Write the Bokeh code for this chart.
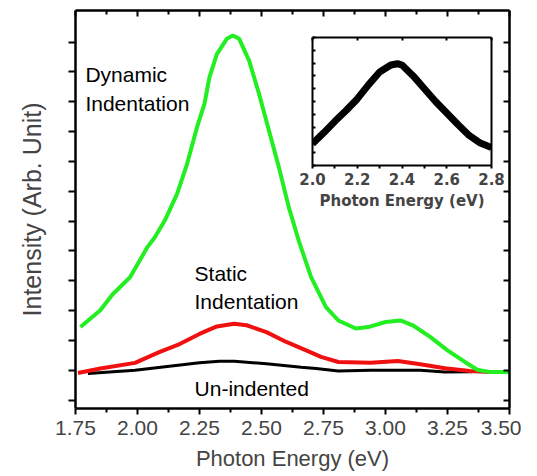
from bokeh.plotting import figure
from bokeh.models import Range1d, LinearAxis, FixedTicker, Label, GridBox
from bokeh.embed import file_html
from bokeh.resources import INLINE

# ---------------- data ----------------
dyn_x = [1.77, 1.85, 1.90, 1.97, 2.04, 2.07, 2.11, 2.16, 2.20, 2.24, 2.27, 2.29,
         2.32, 2.36, 2.385, 2.41, 2.45, 2.49, 2.53, 2.57, 2.61, 2.65, 2.70, 2.76,
         2.81, 2.88, 2.93, 3.00, 3.06, 3.11, 3.18, 3.25, 3.32, 3.37, 3.42, 3.50]
dyn_y = [1.45, 2.01, 2.55, 3.12, 4.13, 4.46, 5.02, 5.92, 6.92, 8.15, 8.93, 9.82,
         10.6, 11.11, 11.22, 11.11, 10.38, 9.27, 8.04, 6.81, 5.47, 4.35, 3.12, 2.12,
         1.67, 1.40, 1.45, 1.62, 1.67, 1.51, 1.12, 0.67, 0.28, 0.02, -0.06, -0.06]

sta_x = [1.76, 1.85, 1.99, 2.09, 2.17, 2.25, 2.32, 2.39, 2.44, 2.52, 2.60, 2.68,
         2.74, 2.81, 2.94, 3.05, 3.14, 3.24, 3.34, 3.42]
sta_y = [-0.09, 0.06, 0.25, 0.62, 0.88, 1.22, 1.47, 1.56, 1.51, 1.28, 0.95, 0.67,
         0.45, 0.28, 0.25, 0.31, 0.20, 0.07, -0.02, -0.06]

und_x = [1.80, 1.99, 2.12, 2.25, 2.33, 2.39, 2.52, 2.66, 2.72, 2.81, 2.94, 3.14, 3.24, 3.35]
und_y = [-0.11, 0.0, 0.13, 0.25, 0.30, 0.30, 0.22, 0.10, 0.06, -0.02, 0.0, 0.0, -0.06, -0.05]

ins_x = [2.00, 2.05, 2.10, 2.15, 2.20, 2.25, 2.30, 2.35, 2.38, 2.40, 2.45, 2.50,
         2.55, 2.60, 2.65, 2.70, 2.75, 2.80]
ins_y = [1.7, 2.55, 3.45, 4.3, 5.2, 6.3, 7.3, 7.85, 7.95, 7.85, 7.0, 6.0,
         5.0, 4.1, 3.2, 2.35, 1.75, 1.4]

x_major = [1.75, 2.00, 2.25, 2.50, 2.75, 3.00, 3.25, 3.50]
x_minor = [1.875, 2.125, 2.375, 2.625, 2.875, 3.125, 3.375]
y_ticks = [-1, 0, 1, 2, 3, 4, 5, 6, 7, 8, 9, 10, 11]
ins_x_major = [2.0, 2.2, 2.4, 2.6, 2.8]
ins_x_minor = [2.1, 2.3, 2.5, 2.7]
ins_y_ticks = [0, 1, 2, 3, 4, 5, 6, 7, 8, 9, 10]

labels = ["Dynamic", "Indentation", "Static", "Indentation", "Un-indented"]

FONT = "Liberation Sans"
AXW = 2.5

# ---------------- main figure ----------------
p = figure(width=513, height=476, x_range=Range1d(1.75, 3.5), y_range=Range1d(-1.28, 12.06),
           output_backend="svg", toolbar_location=None,
           min_border_left=67, min_border_top=10, min_border_right=12, min_border_bottom=68)
p.xgrid.visible = False
p.ygrid.visible = False
p.outline_line_color = None
p.background_fill_color = "white"
p.border_fill_color = "white"

xt = FixedTicker(ticks=x_major, minor_ticks=x_minor)
yt = FixedTicker(ticks=y_ticks, minor_ticks=[])

xa = p.xaxis[0]
xa.ticker = xt
xa.axis_label = "Photon Energy (eV)"
xa.axis_label_text_font = FONT
xa.axis_label_text_font_size = "22px"
xa.axis_label_text_font_style = "normal"
xa.axis_label_standoff = 8
xa.major_label_text_font = FONT
xa.major_label_text_font_size = "21px"
xa.major_label_standoff = 6
xa.major_label_overrides = {v: f"{v:.2f}" for v in x_major}
xa.major_tick_out = 6
xa.major_tick_in = 0
xa.minor_tick_out = 4
xa.minor_tick_in = 0
xa.axis_line_width = AXW
xa.major_tick_line_width = 2
xa.minor_tick_line_width = 2

ya = p.yaxis[0]
ya.ticker = yt
ya.axis_label = "Intensity (Arb. Unit)"
ya.axis_label_text_font = FONT
ya.axis_label_text_font_size = "25px"
ya.axis_label_text_font_style = "normal"
ya.axis_label_standoff = 23
ya.major_label_text_font_size = "0px"
ya.major_label_standoff = 0
ya.major_tick_out = 7
ya.major_tick_in = 0
ya.axis_line_width = AXW
ya.major_tick_line_width = 2

top = LinearAxis(ticker=xt, major_label_text_font_size="0px", major_label_standoff=0,
                 major_tick_in=6, major_tick_out=0, minor_tick_in=4, minor_tick_out=0,
                 axis_line_width=AXW, major_tick_line_width=2, minor_tick_line_width=2)
p.add_layout(top, "above")
right = LinearAxis(ticker=yt, major_label_text_font_size="0px", major_label_standoff=0,
                   major_tick_in=6, major_tick_out=0, minor_tick_in=0, minor_tick_out=0,
                   axis_line_width=AXW, major_tick_line_width=2)
p.add_layout(right, "right")

p.line(und_x, und_y, line_color="black", line_width=3)
p.line(sta_x, sta_y, line_color="#f01010", line_width=4)
p.line(dyn_x, dyn_y, line_color="#22ee22", line_width=4)

lab_pos = [(1.79, 9.68), (1.79, 8.71), (2.23, 3.01), (2.23, 2.07), (2.23, -0.84)]
for txt, (lx, ly) in zip(labels, lab_pos):
    p.add_layout(Label(x=lx, y=ly, y_offset=7, text=txt, text_font=FONT, text_font_size="21px",
                       text_baseline="alphabetic", text_align="left", text_color="black"))

# ---------------- inset ----------------
ins = figure(width=209, height=193, x_range=Range1d(2.0, 2.8), y_range=Range1d(0, 10),
             output_backend="svg", toolbar_location=None,
             min_border_left=16, min_border_right=14, min_border_top=15, min_border_bottom=50)
ins.xgrid.visible = False
ins.ygrid.visible = False
ins.outline_line_color = None
ins.background_fill_color = "white"
ins.border_fill_alpha = 0

ixt = FixedTicker(ticks=ins_x_major, minor_ticks=ins_x_minor)
iyt = FixedTicker(ticks=ins_y_ticks, minor_ticks=[])

ixa = ins.xaxis[0]
ixa.ticker = ixt
ixa.axis_label = "Photon Energy (eV)"
ixa.axis_label_text_font = "DejaVu Sans"
ixa.axis_label_text_font_size = "15px"
ixa.axis_label_text_font_style = "bold"
ixa.axis_label_standoff = 4
ixa.major_label_text_font = "DejaVu Sans"
ixa.major_label_text_font_size = "15px"
ixa.major_label_text_font_style = "bold"
ixa.major_label_standoff = 4
ixa.major_label_overrides = {v: f"{v:.1f}" for v in ins_x_major}
ixa.major_tick_out = 3
ixa.major_tick_in = 0
ixa.minor_tick_out = 3
ixa.minor_tick_in = 0
ixa.axis_line_width = 2
ixa.major_tick_line_width = 2
ixa.minor_tick_line_width = 2

iya = ins.yaxis[0]
iya.ticker = iyt
iya.major_label_text_font_size = "0px"
iya.major_label_standoff = 0
iya.major_tick_in = 3
iya.major_tick_out = 0
iya.axis_line_width = 2
iya.major_tick_line_width = 2

itop = LinearAxis(ticker=ixt, major_label_text_font_size="0px", major_label_standoff=0,
                  major_tick_in=3, major_tick_out=0, minor_tick_in=0, minor_tick_out=0,
                  axis_line_width=2, major_tick_line_width=2)
ins.add_layout(itop, "above")
iright = LinearAxis(ticker=iyt, major_label_text_font_size="0px", major_label_standoff=0,
                    major_tick_in=0, major_tick_out=0, axis_line_width=2)
ins.add_layout(iright, "right")

ins.line(ins_x, ins_y, line_color="black", line_width=7)

grid = GridBox(children=[(p, 0, 0, 3, 3), (ins, 1, 1, 1, 1)],
               rows=["22px", "193px", "261px"], cols=["288px", "209px", "16px"],
               margin=(0, 0, 0, 8))

open("out.html", "w").write(file_html(grid, INLINE))
